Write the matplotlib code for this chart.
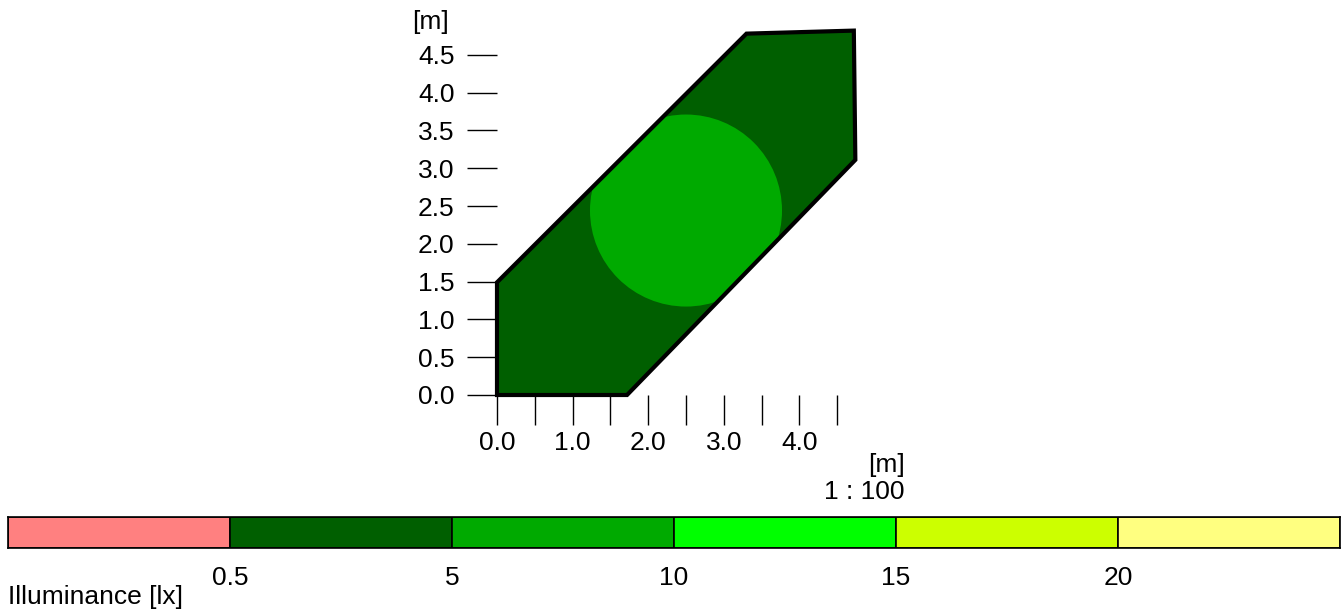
import matplotlib
matplotlib.use("Agg")
import matplotlib.pyplot as plt
from matplotlib.patches import Polygon, Circle

plt.rcParams["font.family"] = ["Liberation Sans", "DejaVu Sans"]

# room outline [m]
room_x = [0.0, 0.0, 3.30, 4.72, 4.74, 1.72]
room_y = [0.0, 1.49, 4.78, 4.82, 3.11, 0.0]

# illuminated spot under the luminaire [m]
spot_center = (2.50, 2.44)
spot_radius = 1.27

x_ticks = [0.0, 0.5, 1.0, 1.5, 2.0, 2.5, 3.0, 3.5, 4.0, 4.5]
x_labels = ["0.0", "", "1.0", "", "2.0", "", "3.0", "", "4.0", ""]
y_ticks = [0.0, 0.5, 1.0, 1.5, 2.0, 2.5, 3.0, 3.5, 4.0, 4.5]
y_labels = ["0.0", "0.5", "1.0", "1.5", "2.0", "2.5", "3.0", "3.5", "4.0", "4.5"]

# false-colour scale
levels = ["0.5", "5", "10", "15", "20"]
level_colors = ["#ff8080", "#005f00", "#00aa00", "#00ff00", "#ccff00", "#ffff80"]

FS = 19
W, H = 1343, 610
fig = plt.figure(figsize=(W / 100, H / 100), dpi=100)

# plan view, origin at pixel (497, 395), ~75.6 px per metre
px_per_m = 75.6
x0, y0 = 497, 395
xmax, ymax = 4.8, 4.9
ax = fig.add_axes([x0 / W, (H - y0) / H, xmax * px_per_m / W, ymax * px_per_m / H])
ax.set_xlim(0, xmax)
ax.set_ylim(0, ymax)
ax.patch.set_visible(False)
for s in ax.spines.values():
    s.set_visible(False)

room = Polygon(list(zip(room_x, room_y)), closed=True, facecolor=level_colors[1],
               edgecolor="none", zorder=1, clip_on=False)
ax.add_patch(room)
spot = Circle(spot_center, spot_radius, facecolor=level_colors[2], edgecolor="none", zorder=2)
ax.add_patch(spot)
spot.set_clip_path(room)
outline = Polygon(list(zip(room_x, room_y)), closed=True, facecolor="none",
                  edgecolor="black", linewidth=3, joinstyle="miter", zorder=3, clip_on=False)
ax.add_patch(outline)

ax.set_xticks(x_ticks)
ax.set_xticklabels(x_labels)
ax.set_yticks(y_ticks)
ax.set_yticklabels(y_labels)
ax.tick_params(axis="x", length=21.6, width=1, pad=4, labelsize=FS)
ax.tick_params(axis="y", length=21.6, width=1, pad=9, labelsize=FS)

fig.text(430 / W, 1 - 22 / H, "[m]", ha="center", va="center", fontsize=FS)
fig.text(905 / W, 1 - 465 / H, "[m]", ha="right", va="center", fontsize=FS)
fig.text(905 / W, 1 - 492 / H, "1 : 100", ha="right", va="center", fontsize=FS)

# colour legend
cax = fig.add_axes([8 / W, (H - 548) / H, 1332 / W, 31 / H])
cax.bar(range(len(level_colors)), [1] * len(level_colors), width=1, align="edge",
        color=level_colors, edgecolor="black", linewidth=1.2)
cax.set_xlim(0, len(level_colors))
cax.set_ylim(0, 1)
cax.set_yticks([])
cax.set_xticks(range(1, len(levels) + 1))
cax.set_xticklabels(levels)
cax.tick_params(axis="x", length=0, pad=13, labelsize=FS)
for s in cax.spines.values():
    s.set_linewidth(1.2)

fig.text(8 / W, 1 - 597 / H, "Illuminance [lx]", ha="left", va="center", fontsize=FS)

fig.savefig("out.png", dpi=100)
